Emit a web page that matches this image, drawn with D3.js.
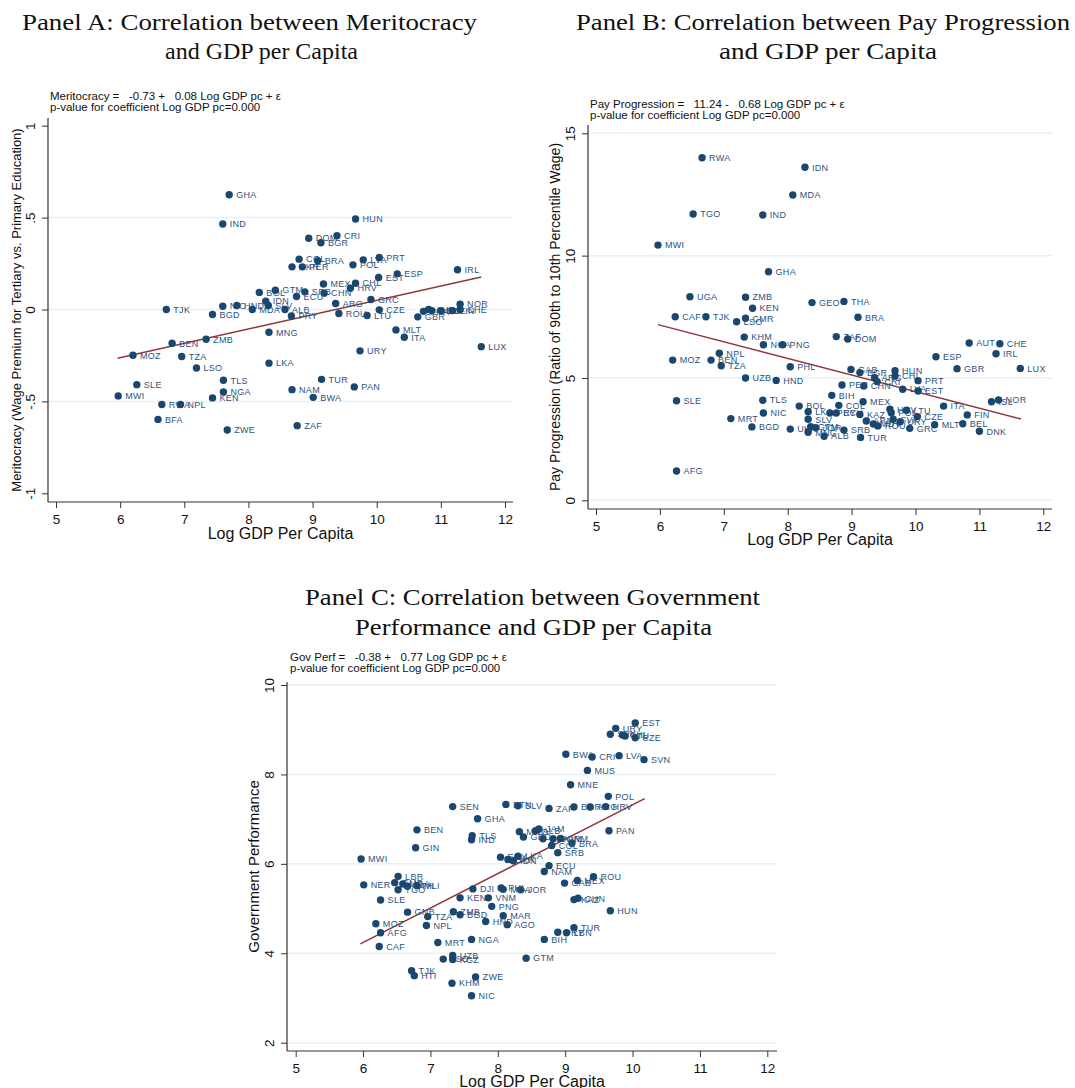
<!DOCTYPE html>
<html><head><meta charset="utf-8">
<script src="https://cdn.jsdelivr.net/npm/d3@7"></script>
<style>
body{margin:0;background:#fff;}
svg text{font-family:"Liberation Sans",Arial,sans-serif;}
</style>
</head><body>
<svg id="chart" width="1075" height="1088"></svg>
<script>
// ---------------- DATA ----------------
const xTickValues = [5,6,7,8,9,10,11,12];

// Panel A: Meritocracy
const aCodes = ["GHA","IND","TJK","BGD","NIC","HND","MDA","BOL","GTM","IDN","SLV","ALB","PRY","HUN","DOM","CRI","BGR","COL","BRA","UKR","PER","POL","LVA","PRT","EST","ESP","IRL","MEX","CHL","HRV","SRB","CHN","ECU","ARG","GRC","ROU","LTU","CZE","GBR","FRA","AUT","DEU","BEL","FIN","CHE","NOR","MNG","BEN","ZMB","MOZ","TZA","LSO","LKA","SLE","TLS","NGA","MWI","KEN","RWA","NPL","BFA","ZWE","MLT","ITA","LUX","URY","TUR","PAN","NAM","BWA","ZAF"];
const aGdp = [7.70,7.60,6.72,7.44,7.60,7.82,8.06,8.17,8.42,8.27,8.31,8.57,8.67,9.67,8.94,9.38,9.13,8.79,9.08,8.68,8.84,9.63,9.79,10.04,10.03,10.32,11.26,9.17,9.67,9.59,8.88,9.18,8.75,9.36,9.91,9.41,9.85,10.04,10.64,10.73,10.81,10.86,11.00,11.18,11.30,11.30,8.32,6.81,7.34,6.20,6.96,7.19,8.32,6.26,7.61,7.61,5.97,7.44,6.65,6.94,6.59,7.67,10.30,10.43,11.63,9.74,9.14,9.65,8.68,9.01,8.76];
const aVal = [0.624,0.465,0.0,-0.027,0.018,0.022,0.0,0.093,0.105,0.045,0.022,0.0,-0.035,0.492,0.388,0.401,0.363,0.274,0.265,0.232,0.232,0.243,0.270,0.283,0.174,0.194,0.216,0.139,0.143,0.116,0.096,0.089,0.071,0.033,0.054,-0.022,-0.033,-0.002,-0.040,-0.010,0.0,-0.006,-0.006,-0.006,0.0,0.029,-0.124,-0.184,-0.162,-0.249,-0.256,-0.318,-0.292,-0.409,-0.385,-0.449,-0.470,-0.481,-0.517,-0.517,-0.598,-0.656,-0.111,-0.151,-0.202,-0.225,-0.380,-0.421,-0.436,-0.478,-0.632];
const aFitX = [5.96, 11.63];
const aFitY = [-0.265, 0.177];
const aYTicks = [-1,-0.5,0,0.5,1];
const aYTickLabels = ["-1","-.5","0",".5","1"];
const aGridTicks = [-0.5,0,0.5];
const aTitle = ["Panel A: Correlation between Meritocracy","and GDP per Capita"];
const aEquation = ["Meritocracy =   -0.73 +   0.08 Log GDP pc + \u03b5","p-value for coefficient Log GDP pc=0.000"];
const aYTitle = "Meritocracy (Wage Premium for Tertiary vs. Primary Education)";

// Panel B: Pay Progression
const bCodes = ["RWA","TGO","IND","MWI","IDN","MDA","GHA","UGA","ZMB","KEN","CAF","TJK","CMR","LSO","GEO","THA","BRA","KHM","NGA","PNG","NPL","MOZ","BEN","TZA","PHL","UZB","HND","SLE","TLS","NIC","MRT","BGD","UKR","AFG","BOL","ZAF","DOM","AUT","CHE","IRL","ESP","GBR","LUX","GAB","BGR","ARG","HUN","CHL","CRI","PRT","PER","CHN","LVA","EST","BIH","ITA","ISL","NOR","COL","MEX","LKA","PRY","ECU","KAZ","HRV","POL","LTU","SLV","ARM","MDV","ROU","SVK","URY","CZE","GRC","MLT","BEL","FIN","DNK","GTM","JOR","MNG","ALB","SRB","TUR"];
const bGdp = [6.66,6.52,7.61,5.97,8.27,8.08,7.70,6.47,7.34,7.45,6.24,6.72,7.34,7.20,8.38,8.88,9.10,7.32,7.62,7.92,6.93,6.20,6.80,6.96,8.04,7.34,7.82,6.26,7.61,7.62,7.11,7.44,8.04,6.26,8.18,8.76,8.94,10.84,11.32,11.26,10.32,10.65,11.64,8.99,9.13,9.36,9.68,9.68,9.40,10.04,8.85,9.19,9.80,10.04,8.69,10.44,11.19,11.30,8.80,9.18,8.32,8.66,8.76,9.13,9.60,9.62,9.86,8.32,9.23,9.34,9.41,9.65,9.76,10.03,9.91,10.30,10.74,10.81,11.00,8.36,8.44,8.32,8.57,8.88,9.14];
const bVal = [14.0,11.70,11.66,10.43,13.61,12.48,9.34,8.32,8.30,7.85,7.50,7.50,7.44,7.30,8.08,8.13,7.48,6.67,6.36,6.36,6.01,5.73,5.73,5.50,5.46,5.00,4.90,4.07,4.09,3.57,3.34,3.00,2.91,1.20,3.85,6.69,6.59,6.43,6.40,5.99,5.87,5.38,5.39,5.35,5.22,5.01,5.30,5.08,4.85,4.89,4.71,4.67,4.54,4.47,4.29,3.85,4.03,4.10,3.88,4.03,3.62,3.57,3.57,3.51,3.72,3.58,3.68,3.31,3.24,3.12,3.04,3.31,3.21,3.42,2.94,3.09,3.13,3.49,2.82,3.01,2.97,2.78,2.62,2.87,2.57];
const bFitX = [5.97, 11.65];
const bFitY = [7.18, 3.32];
const bYTicks = [0,5,10,15];
const bYTickLabels = ["0","5","10","15"];
const bGridTicks = [0,5,10,15];
const bTitle = ["Panel B: Correlation between Pay Progression","and GDP per Capita"];
const bEquation = ["Pay Progression =   11.24 -   0.68 Log GDP pc + \u03b5","p-value for coefficient Log GDP pc=0.000"];
const bYTitle = "Pay Progression (Ratio of 90th to 10th Percentile Wage)";

// Panel C: Government Performance
const cCodes = ["SEN","GHA","BEN","TLS","IND","GIN","MWI","BTN","SLV","EGY","UKR","LKA","EST","URY","SVK","CHL","LTU","CZE","BWA","CRI","LVA","SVN","MUS","MNE","POL","ZAF","BGR","ARG","HRV","PAN","MNG","GEO","ALB","JAM","DZA","DOM","ARM","BRA","COL","SRB","IDN","ECU","NAM","GAB","MEX","ROU","KAZ","CHN","HUN","TUR","PRY","LBN","BIH","GTM","JOR","MAR","AGO","LBR","NER","GMB","UGA","ETH","MLI","TGO","SLE","GNB","TZA","ZMB","BGD","MOZ","NPL","AFG","CAF","MRT","NGA","UZB","LSO","KGZ","TJK","HTI","ZWE","KHM","NIC","DJI","KEN","VNM","PNG","HND","PHL","MDA"];
const cGdp = [7.33,7.70,6.80,7.62,7.61,6.78,5.97,8.12,8.30,8.04,8.15,8.30,10.04,9.75,9.67,9.85,9.89,10.04,9.01,9.40,9.80,10.17,9.33,9.08,9.64,8.76,9.13,9.37,9.60,9.65,8.32,8.38,8.56,8.61,8.67,8.82,8.93,9.10,8.80,8.89,8.23,8.76,8.69,8.99,9.18,9.42,9.13,9.19,9.67,9.13,8.89,9.02,8.69,8.42,8.34,8.08,8.14,6.52,6.01,6.47,6.59,6.66,6.80,6.52,6.26,6.66,6.96,7.34,7.44,6.19,6.94,6.26,6.24,7.11,7.61,7.33,7.19,7.33,6.72,6.76,7.67,7.32,7.61,7.63,7.44,7.86,7.91,7.82,8.05,8.08];
const cVal = [7.28,7.01,6.76,6.63,6.54,6.36,6.11,7.33,7.30,6.15,6.10,6.17,9.15,9.03,8.90,8.88,8.86,8.82,8.45,8.39,8.42,8.33,8.09,7.77,7.51,7.24,7.27,7.27,7.28,6.74,6.72,6.60,6.74,6.78,6.56,6.56,6.57,6.46,6.41,6.25,6.07,5.96,5.83,5.57,5.63,5.71,5.20,5.23,4.95,4.57,4.47,4.46,4.31,3.89,5.42,4.84,4.64,5.72,5.53,5.58,5.55,5.50,5.51,5.42,5.19,4.92,4.82,4.93,4.86,4.66,4.62,4.46,4.15,4.24,4.31,3.95,3.87,3.86,3.61,3.50,3.47,3.33,3.05,5.44,5.24,5.24,5.05,4.71,5.46,5.43];
const cFitX = [5.96, 10.18];
const cFitY = [4.21, 7.46];
const cYTicks = [2,4,6,8,10];
const cYTickLabels = ["2","4","6","8","10"];
const cGridTicks = [2,4,6,8,10];
const cTitle = ["Panel C: Correlation between Government","Performance and GDP per Capita"];
const cEquation = ["Gov Perf =   -0.38 +   0.77 Log GDP pc + \u03b5","p-value for coefficient Log GDP pc=0.000"];
const cYTitle = "Government Performance";
const xTitle = "Log GDP Per Capita";

// ---------------- DRAWING ----------------
const svg = d3.select("#chart");
const NAVY = "#1a476f", MAROON = "#90353b", GRID = "#e8f0f2";

function drawPanel(p) {
  const g = svg.append("g");
  const x = d3.scaleLinear().domain([5,12]).range(p.xr);
  const y = d3.scaleLinear().domain(p.yd).range(p.yr);
  const f = p.frame;

  p.title.forEach((t,i)=>{
    g.append("text").attr("x", p.titlePos[i][0]).attr("y", p.titlePos[i][1])
      .attr("text-anchor","middle")
      .style("font-family","'Liberation Serif','Times New Roman',serif")
      .attr("font-size", 24).attr("fill","#111")
      .attr("textLength", p.titlePos[i][2]).attr("lengthAdjust","spacingAndGlyphs")
      .text(t);
  });
  p.eq.forEach((t,i)=>{
    g.append("text").attr("x", p.eqPos[0]).attr("y", p.eqPos[1] + i*10.5)
      .attr("font-size", 11.5).attr("fill","#111").style("white-space","pre")
      .text(t);
  });

  g.selectAll("line.grid").data(p.grid).join("line").attr("class","grid")
    .attr("x1", f.left+1).attr("x2", f.right)
    .attr("y1", d=>y(d)).attr("y2", d=>y(d))
    .attr("stroke", GRID).attr("stroke-width", 1.5);

  const xa = g.append("g").attr("transform", `translate(0,${f.bottom})`)
    .call(d3.axisBottom(x).tickValues(xTickValues).tickSize(6).tickPadding(6).tickFormat(d3.format("d")));
  xa.select(".domain").remove();
  xa.selectAll(".tick line").attr("stroke","#333");
  xa.selectAll(".tick text").attr("font-size", 13.5).attr("fill","#111")
    .style("font-family","'Liberation Sans',Arial,sans-serif");
  g.append("line").attr("x1", f.left).attr("x2", f.right).attr("y1", f.bottom).attr("y2", f.bottom)
    .attr("stroke","#333").attr("stroke-width",1.2);

  const ya = g.append("g").attr("transform", `translate(${f.left},0)`)
    .call(d3.axisLeft(y).tickValues(p.yTicks).tickSize(6).tickFormat((d,i)=>p.yLabels[i]));
  ya.select(".domain").remove();
  ya.selectAll(".tick line").attr("stroke","#333");
  ya.selectAll(".tick text")
    .attr("x", null).attr("dy", null)
    .attr("transform","translate(-13,0) rotate(-90)")
    .attr("text-anchor","middle").attr("font-size", 13.5).attr("fill","#111")
    .style("font-family","'Liberation Sans',Arial,sans-serif");
  g.append("line").attr("x1", f.left).attr("x2", f.left).attr("y1", f.top).attr("y2", f.bottom)
    .attr("stroke","#333").attr("stroke-width",1.2);

  g.append("text").attr("x", (f.left+f.right)/2).attr("y", p.xTitleY)
    .attr("text-anchor","middle").attr("font-size", 16).attr("fill","#111").text(xTitle);
  g.append("text")
    .attr("transform", `translate(${p.yTitleX},${(f.top+f.bottom)/2}) rotate(-90)`)
    .attr("text-anchor","middle").attr("font-size", p.yTitleSize).attr("fill","#111").text(p.yTitle);

  g.append("line")
    .attr("x1", x(p.fitX[0])).attr("y1", y(p.fitY[0]))
    .attr("x2", x(p.fitX[1])).attr("y2", y(p.fitY[1]))
    .attr("stroke", MAROON).attr("stroke-width", 1.5);

  const pts = p.codes.map((c,i)=>({c, x:p.gdp[i], y:p.val[i]}));
  const pg = g.selectAll("g.pt").data(pts).join("g").attr("class","pt")
    .attr("transform", d=>`translate(${x(d.x)},${y(d.y)})`);
  pg.append("circle").attr("r", 3.7).attr("fill", NAVY);
  pg.append("text").attr("x", 7).attr("dy","0.36em")
    .attr("font-size", 9).attr("fill", "#2b5380").attr("letter-spacing", 0.3).text(d=>d.c);
}

drawPanel({
  codes:aCodes, gdp:aGdp, val:aVal, fitX:aFitX, fitY:aFitY,
  yd:[-1,1], yr:[493.3,125.7], xr:[56,505],
  frame:{left:48,right:513,top:118,bottom:502},
  yTicks:aYTicks, yLabels:aYTickLabels, grid:aGridTicks,
  title:aTitle, titlePos:[[249.5,30,455],[261.5,59,193]],
  eq:aEquation, eqPos:[50,100],
  xTitleY:539, yTitle:aYTitle, yTitleX:21, yTitleSize:13
});
drawPanel({
  codes:bCodes, gdp:bGdp, val:bVal, fitX:bFitX, fitY:bFitY,
  yd:[0,15], yr:[500.3,133.3], xr:[596,1043.3],
  frame:{left:588,right:1052,top:125,bottom:509},
  yTicks:bYTicks, yLabels:bYTickLabels, grid:bGridTicks,
  title:bTitle, titlePos:[[823,30,494],[828,59,218]],
  eq:bEquation, eqPos:[590,108],
  xTitleY:545, yTitle:bYTitle, yTitleX:560, yTitleSize:14
});
drawPanel({
  codes:cCodes, gdp:cGdp, val:cVal, fitX:cFitX, fitY:cFitY,
  yd:[2,10], yr:[1042.7,685], xr:[295.7,767.3],
  frame:{left:287,right:777,top:682,bottom:1051},
  yTicks:cYTicks, yLabels:cYTickLabels, grid:cGridTicks,
  title:cTitle, titlePos:[[532.5,605,455],[533.5,635,357]],
  eq:cEquation, eqPos:[290,661],
  xTitleY:1087, yTitle:cYTitle, yTitleX:259, yTitleSize:15
});
</script>
</body></html>
